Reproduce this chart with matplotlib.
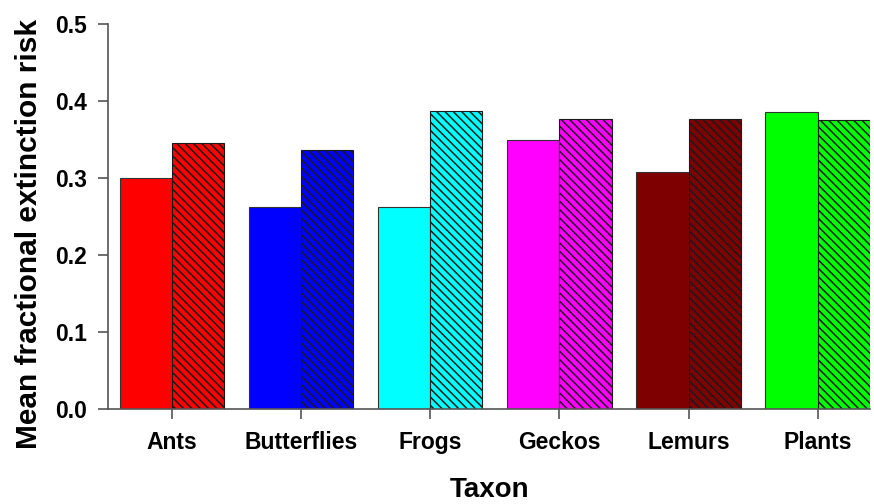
import numpy as np
import matplotlib
matplotlib.use("Agg")
import matplotlib.pyplot as plt

# data
taxa = ["Ants", "Butterflies", "Frogs", "Geckos", "Lemurs", "Plants"]
risk_solid = [0.300, 0.262, 0.262, 0.349, 0.308, 0.386]
risk_hatched = [0.346, 0.336, 0.387, 0.377, 0.377, 0.375]
colors = ["#ff0000", "#0000ff", "#00ffff", "#ff00ff", "#7f0000", "#00ff00"]

plt.rcParams["font.family"] = ["Liberation Sans", "DejaVu Sans"]
plt.rcParams["font.weight"] = "bold"
plt.rcParams["hatch.linewidth"] = 1.1

fig = plt.figure(figsize=(8.74, 5.04), dpi=100)
ax = fig.add_axes([0.1236, 0.1885, 0.8718, 0.7635])

x = np.arange(len(taxa))
w = 0.405
ax.bar(x - w / 2, risk_solid, w, color=colors, edgecolor="#333333", linewidth=0.8)
ax.bar(x + w / 2, risk_hatched, w, color=colors, edgecolor="#1a1a1a", linewidth=0.8,
       hatch="\\\\\\\\")

ax.set_xlim(-0.494, 5.405)
ax.set_ylim(0, 0.5)
ax.set_yticks([0.0, 0.1, 0.2, 0.3, 0.4, 0.5])
ax.set_yticklabels(["0.0", "0.1", "0.2", "0.3", "0.4", "0.5"])
ax.set_xticks(x)
ax.set_xticklabels(taxa)

for s in ["top", "right"]:
    ax.spines[s].set_visible(False)
for s in ["left", "bottom"]:
    ax.spines[s].set_color("#555555")
    ax.spines[s].set_linewidth(1.2)

ax.tick_params(axis="both", direction="out", length=7, width=1.2, color="#555555",
               labelsize=16.5)
ax.tick_params(axis="x", pad=9)
ax.tick_params(axis="y", pad=8)

ax.set_ylabel("Mean fractional extinction risk", fontsize=21.5, fontweight="bold")
ax.yaxis.set_label_coords(-0.085, 0.455)
ax.set_xlabel("Taxon", fontsize=20, fontweight="bold")
ax.xaxis.set_label_coords(0.501, -0.178)

fig.savefig("out.png", dpi=100)
